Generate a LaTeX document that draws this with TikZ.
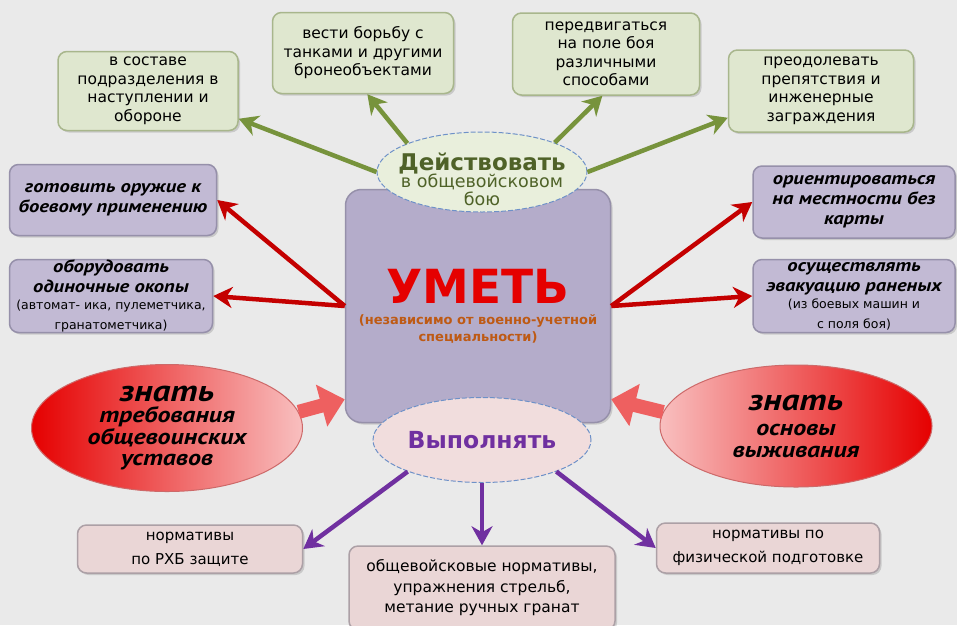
\documentclass[tikz,border=0pt]{standalone}
\usepackage{fontspec}
\setmainfont{DejaVu Sans}
\newfontfamily\cursive[FakeStretch=1.18]{PT Sans}
\usetikzlibrary{positioning,arrows.meta,shapes.geometric,shadows}
\definecolor{paper}{RGB}{234,234,234}
\definecolor{gfill}{RGB}{223,231,207}
\definecolor{gline}{RGB}{168,182,140}
\definecolor{garrow}{RGB}{119,147,60}
\definecolor{gtext}{RGB}{79,98,40}
\definecolor{lfill}{RGB}{194,186,212}
\definecolor{lline}{RGB}{150,144,170}
\definecolor{ufill}{RGB}{180,172,202}
\definecolor{rarrow}{RGB}{196,0,0}
\definecolor{brown}{RGB}{190,90,20}
\definecolor{pfill}{RGB}{234,214,214}
\definecolor{pline}{RGB}{172,160,166}
\definecolor{parrow}{RGB}{112,48,160}
\definecolor{ofill}{RGB}{233,239,220}
\definecolor{vfill}{RGB}{241,221,221}
\definecolor{oline}{RGB}{110,145,200}
\definecolor{fatred}{RGB}{238,96,96}
\newcommand{\tnote}{\normalfont\fontsize{12.5}{15}\selectfont}

\begin{document}
\begin{tikzpicture}[x=1pt,y=-1pt]
 \tikzset{
  wh/.style 2 args={minimum width=#1,minimum height=#2},
  card/.style={rounded corners=9pt,line width=1.5pt,align=center,inner sep=0pt,
   drop shadow={opacity=.3,shadow xshift=2pt,shadow yshift=-2pt}},
  greenbox/.style={card,fill=gfill,draw=gline,font=\fontsize{15.5}{18.5}\selectfont},
  lilacbox/.style={card,fill=lfill,draw=lline,font=\cursive\bfseries\itshape\fontsize{17.5}{20}\selectfont},
  pinkbox/.style={card,fill=pfill,draw=pline,font=\fontsize{15.5}{20.5}\selectfont},
  bubble/.style={ellipse,inner xsep=-10pt,inner ysep=-12pt,line width=1pt,draw=oline,dash pattern=on 5pt off 2pt,align=center},
  redbubble/.style={ellipse,inner sep=0pt,line width=1pt,draw=fatred!70!gray,align=center,
   font=\cursive\bfseries\itshape\fontsize{22}{21.5}\selectfont},
  arrow/.style={line width=4.5pt,-{Stealth[length=19pt,width=21pt,inset=6pt]}},
  fat/.style={line width=14pt,fatred,-{Triangle[length=24pt,width=42pt]}}
 }
 \fill[paper] (0,0) rectangle (957,625);
 \useasboundingbox (0,0) rectangle (957,625);

 \node[greenbox,wh={180pt}{79pt}] (D1) at (148,91) {в составе\\подразделения в\\наступлении и\\обороне};
 \node[greenbox,wh={181pt}{81pt}] (D2) at (363,53) {вести борьбу с\\танками и другими\\бронеобъектами};
 \node[greenbox,wh={187pt}{82pt}] (D3) at (606,54) {передвигаться\\на поле боя\\различными\\способами};
 \node[greenbox,wh={185pt}{82pt}] (D4) at (821,91) {преодолевать\\препятствия и\\инженерные\\заграждения};

 \node[lilacbox,wh={207pt}{71pt}] (S1) at (113,200) {готовить оружие к\\боевому применению};
 \node[lilacbox,wh={203pt}{73pt}] (S2) at (111,296) {оборудовать\\одиночные окопы\\[-3pt]
  \tnote (автомат- ика, пулеметчика,\\\tnote гранатометчика)};
 \node[lilacbox,wh={202pt}{72pt}] (S3) at (854,202) {ориентироваться\\на местности без\\карты};
 \node[lilacbox,wh={202pt}{73pt}] (S4) at (854,296) {осуществлять\\эвакуацию раненых\\[-3pt]
  \tnote (из боевых машин и\\\tnote с поля боя)};

 \node[card,fill=ufill,draw=lline,rounded corners=16pt,wh={265pt}{233pt},text=brown,
  font=\bfseries\fontsize{13}{17}\selectfont] (U) at (478,306)
  {{\color{red!90!black}\fontsize{47}{50}\selectfont УМЕТЬ}\\[4pt]
   (независимо от военно-учетной\\специальности)};

 \node[bubble,fill=ofill,wh={210pt}{80pt},text=gtext,font=\fontsize{17.5}{17.5}\selectfont] (D) at (482,172)
  {\rule{0pt}{32pt}{\bfseries\fontsize{23}{22}\selectfont Действовать}\\[0pt]в общевойсковом\\бою};
 \node[bubble,fill=vfill,wh={218pt}{85pt},text=parrow,font=\bfseries\fontsize{23.5}{24}\selectfont] (V) at (482,440)
  {Выполнять};

 \node[redbubble,left color=red!90!black,right color=fatred!40,wh={271pt}{127pt}] (Z1) at (167,428)
  {{\fontsize{30}{30}\selectfont знать}\\требования\\общевоинских\\уставов};
 \node[redbubble,left color=fatred!40,right color=red!90!black,wh={272pt}{122pt}] (Z2) at (796,426)
  {{\fontsize{30}{30}\selectfont знать}\\[4pt]основы\\выживания};

 \node[pinkbox,wh={225pt}{48pt},font=\fontsize{15}{24}\selectfont] (N1) at (190,549) {нормативы\\по РХБ защите};
 \node[pinkbox,wh={266pt}{84pt}] (N2) at (482,588) {общевойсковые нормативы,\\упражнения стрельб,\\метание ручных гранат};
 \node[pinkbox,wh={223pt}{50pt},font=\fontsize{15}{24}\selectfont] (N3) at (768,548) {нормативы по\\физической подготовке};

 \draw[arrow,garrow] (D.180) to (D1.-17);
 \draw[arrow,garrow] (D.159) to (D2.-84);
 \draw[arrow,garrow] (D.22) to (D3.-95);
 \draw[arrow,garrow] (D.0) to (D4.-164);

 \draw[arrow,rarrow] (U.west) to (S1.east);
 \draw[arrow,rarrow] (U.west) to (S2.east);
 \draw[arrow,rarrow] (U.east) to (S3.west);
 \draw[arrow,rarrow] (U.east) to (S4.west);

 \draw[arrow,parrow] (V.-157) to (N1.east);
 \draw[arrow,parrow] (V.south) to (N2.north);
 \draw[arrow,parrow] (V.-23) to (N3.west);

 \draw[fat] (Z1.7) to (U.215);
 \draw[fat] (Z2.174) to (U.-35);
\end{tikzpicture}
\end{document}
